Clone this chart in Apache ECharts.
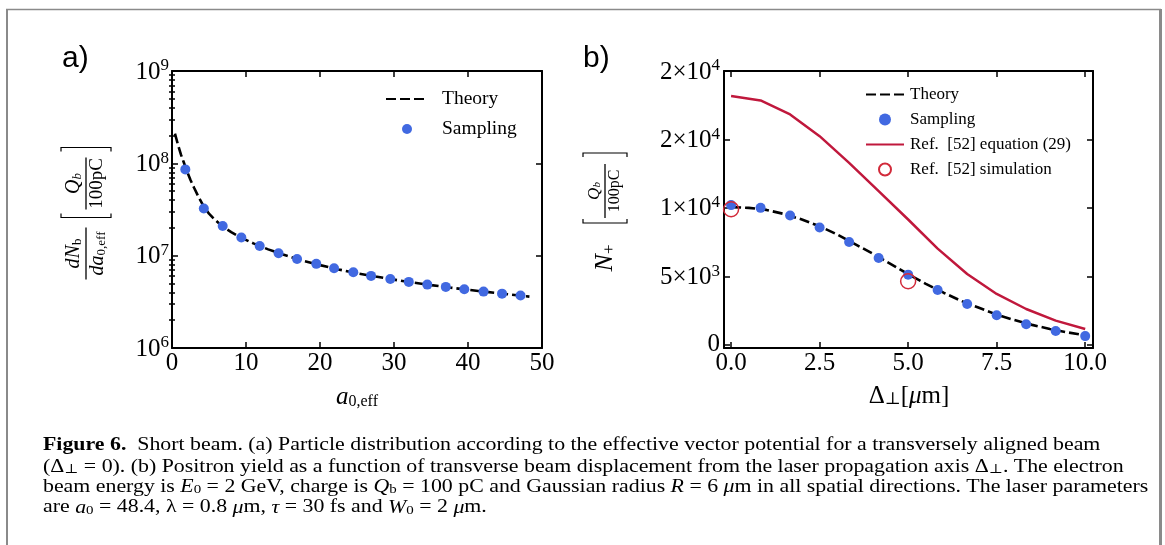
<!DOCTYPE html>
<html lang="en">
<head>
<meta charset="UTF-8">
<title>Figure 6</title>
<script src="https://cdn.jsdelivr.net/npm/echarts@6/dist/echarts.min.js"></script>
<style>
  html, body { margin: 0; padding: 0; background: #fff; }
  #main { width: 1165px; height: 545px; }
</style>
</head>
<body>
<div id="main"></div>
<script type="text/javascript">
// ---- panel a) : dN/da0,eff vs a0,eff (log y)
var aSampleX = [1.8, 4.3, 6.85, 9.37, 11.85, 14.4, 16.9, 19.5, 21.9, 24.5, 26.9, 29.5, 32.0, 34.5, 37.0, 39.5, 42.1, 44.6, 47.1];
var aSampleY = [8.6e7, 3.24e7, 2.1e7, 1.57e7, 1.27e7, 1.06e7, 9.2e6, 8.15e6, 7.3e6, 6.62e6, 6.04e6, 5.6e6, 5.2e6, 4.86e6, 4.59e6, 4.33e6, 4.08e6, 3.88e6, 3.7e6];
var aTheoryX = [0.4, 0.8, 1.2, 1.6, 2.0, 2.5, 3.0, 3.6, 4.3, 5.0, 5.8, 6.8, 8.0, 9.4, 11, 13, 15, 17.5, 20, 22.5, 25, 27.5, 30, 32.5, 35, 37.5, 40, 42.5, 45, 48.3];
var aTheoryY = [2.1e8, 1.6e8, 1.25e8, 1.02e8, 8.3e7, 6.6e7, 5.4e7, 4.3e7, 3.4e7, 2.85e7, 2.45e7, 2.08e7, 1.8e7, 1.56e7, 1.36e7, 1.17e7, 1.03e7, 8.9e6, 7.9e6, 7.1e6, 6.45e6, 5.95e6, 5.5e6, 5.12e6, 4.8e6, 4.52e6, 4.27e6, 4.05e6, 3.85e6, 3.6e6];
var aYTicks = [1e6, 1e7, 1e8, 1e9];
var aYTickLabels = ['10^6', '10^7', '10^8', '10^9'];

// ---- panel b) : N+ vs transverse displacement
var bX = [0, 0.833, 1.667, 2.5, 3.333, 4.167, 5, 5.833, 6.667, 7.5, 8.333, 9.167, 10];
var bSampling = [10200, 10000, 9440, 8560, 7510, 6340, 5120, 4000, 2980, 2150, 1490, 1000, 630];
var bRefEq = [18170, 17850, 16830, 15240, 13290, 11220, 9150, 7020, 5170, 3710, 2610, 1760, 1150];
var bTheoryX = [0, 0.5, 1, 1.5, 2, 2.5, 3, 3.5, 4, 4.5, 5, 5.5, 6, 6.5, 7, 7.5, 8, 8.5, 9, 9.5, 10];
var bTheory = [10050, 10000, 9850, 9550, 9150, 8650, 8050, 7350, 6650, 5900, 5150, 4450, 3800, 3200, 2700, 2200, 1800, 1450, 1150, 900, 680];
var bRefSimX = [0, 5];
var bRefSim = [9900, 4640];
var bXTicks = [0, 2.5, 5, 7.5, 10];
var bYTicks = [0, 5000, 10000, 15000, 20000];
var bYTickLabels = ['0', '5×10^3', '1×10^4', '2×10^4', '2×10^4'];

var SERIF = '"Liberation Serif", "DejaVu Serif", serif';
var BLUE = '#4169E1';
var RED = '#C0183C';

function zip(xs, ys) {
    return xs.map(function (x, i) { return [x, ys[i]]; });
}

// minor log ticks 2..9 x 10^n
var aYMinor = [];
for (var e = 6; e < 9; e++) {
    for (var m = 2; m <= 9; m++) aYMinor.push(m * Math.pow(10, e));
}

var supRich = {
    b: { fontFamily: SERIF, fontSize: 25, color: '#000', verticalAlign: 'bottom' },
    s: { fontFamily: SERIF, fontSize: 17, color: '#000', verticalAlign: 'bottom', padding: [0, 0, 10, 0] }
};
function powLabel(txt) {
    var p = txt.split('^');
    if (p.length === 1) return '{b|' + p[0] + '}';
    return '{b|' + p[0] + '}{s|' + p[1] + '}';
}

var tickStyle = { color: '#000', width: 1.5 };
var spine = { show: true, onZero: false, lineStyle: { color: '#000', width: 2 } };

function plainX(grid, pos, min, max, ticks, showLabel, fmt) {
    return {
        gridIndex: grid, type: 'value', position: pos, min: min, max: max,
        axisLine: spine,
        axisTick: { show: true, inside: true, length: 6, customValues: ticks, lineStyle: tickStyle },
        axisLabel: { show: showLabel, customValues: ticks, margin: 3, fontFamily: SERIF, fontSize: 25, color: '#000', formatter: fmt },
        splitLine: { show: false }
    };
}

var xAxes = [
    plainX(0, 'bottom', 0, 50, [0, 10, 20, 30, 40, 50], true, function (v) { return String(v); }),
    plainX(0, 'top', 0, 50, [0, 10, 20, 30, 40, 50], false),
    plainX(1, 'bottom', -0.2, 10.22, bXTicks, true, function (v) { return v.toFixed(1); }),
    plainX(1, 'top', -0.2, 10.22, bXTicks, false)
];

function logY(pos, ticks, len, showLabel, showLine) {
    return {
        gridIndex: 0, type: 'log', logBase: 10, position: pos, min: 1e6, max: 1e9,
        axisLine: showLine ? spine : { show: false },
        axisTick: { show: true, inside: true, length: len, customValues: ticks, lineStyle: tickStyle },
        axisLabel: {
            show: showLabel, customValues: ticks, margin: 3, rich: supRich,
            formatter: function (v) {
                var i = aYTicks.indexOf(v);
                if (i < 0) i = Math.round(Math.log10(v)) - 6;
                return powLabel(aYTickLabels[i]);
            }
        },
        splitLine: { show: false }
    };
}
function linY(pos, showLabel) {
    return {
        gridIndex: 1, type: 'value', position: pos, min: -240, max: 20000,
        axisLine: spine,
        axisTick: { show: true, inside: true, length: 6, customValues: bYTicks, lineStyle: tickStyle },
        axisLabel: {
            show: showLabel, customValues: bYTicks, margin: 4, rich: supRich,
            formatter: function (v) { return powLabel(bYTickLabels[bYTicks.indexOf(v)]); }
        },
        splitLine: { show: false }
    };
}

var yAxes = [
    logY('left', aYTicks, 6, true, true),
    logY('left', aYMinor, 3, false, false),
    logY('right', aYTicks, 6, false, true),
    logY('right', aYMinor, 3, false, false),
    linY('left', true),
    linY('right', false)
];

var dash = [10, 4];
var series = [
    {
        name: 'Theory', type: 'line', xAxisIndex: 0, yAxisIndex: 0, symbol: 'none',
        data: zip(aTheoryX, aTheoryY), lineStyle: { color: '#000', width: 2.6, type: dash }, itemStyle: { color: '#000' }, z: 2
    },
    {
        name: 'Sampling', type: 'scatter', xAxisIndex: 0, yAxisIndex: 0, symbolSize: 10,
        data: zip(aSampleX, aSampleY), itemStyle: { color: BLUE, opacity: 1 }, z: 3
    },
    {
        name: 'Ref.  [52] equation (29)', type: 'line', xAxisIndex: 2, yAxisIndex: 4, symbol: 'none',
        data: zip(bX, bRefEq), lineStyle: { color: RED, width: 2.5 }, itemStyle: { color: RED }, z: 2
    },
    {
        name: 'Theory', type: 'line', xAxisIndex: 2, yAxisIndex: 4, symbol: 'none',
        data: zip(bTheoryX, bTheory), lineStyle: { color: '#000', width: 2.6, type: dash }, itemStyle: { color: '#000' }, z: 2
    },
    {
        name: 'Sampling', type: 'scatter', xAxisIndex: 2, yAxisIndex: 4, symbolSize: 10,
        data: zip(bX, bSampling), itemStyle: { color: BLUE, opacity: 1 }, z: 3
    },
    {
        name: 'Ref.  [52] simulation', type: 'scatter', xAxisIndex: 2, yAxisIndex: 4, symbolSize: 15,
        data: zip(bRefSimX, bRefSim),
        itemStyle: { color: 'rgba(255,255,255,0)', borderColor: '#D22A3A', borderWidth: 1.5, opacity: 1 }, z: 4
    }
];

// text helpers for math-ish labels
var mathRich = function (size, sub) {
    return {
        i: { fontFamily: SERIF, fontStyle: 'italic', fontSize: size, color: '#000', verticalAlign: 'bottom' },
        r: { fontFamily: SERIF, fontSize: size, color: '#000', verticalAlign: 'bottom' },
        sub: { fontFamily: SERIF, fontSize: sub, color: '#000', verticalAlign: 'bottom', lineHeight: sub * 0.45 },
        isub: { fontFamily: SERIF, fontStyle: 'italic', fontSize: sub, color: '#000', verticalAlign: 'bottom', lineHeight: sub * 0.45 }
    };
};
function txt(x, y, text, size, sub, align, valign) {
    return {
        type: 'text', x: x, y: y, silent: true,
        style: {
            text: text, fontFamily: SERIF, fontSize: size, fill: '#000',
            align: align || 'center', verticalAlign: valign || 'middle', rich: mathRich(size, sub)
        }
    };
}
function hline(x1, x2, y, w) {
    return { type: 'line', silent: true, shape: { x1: x1, y1: y, x2: x2, y2: y }, style: { stroke: '#000', lineWidth: w || 1.3 } };
}
function bracket(x, h, dir) {
    return {
        type: 'polyline', silent: true,
        shape: { points: [[x + dir * 4, -h], [x, -h], [x, h], [x + dir * 4, h]] },
        style: { stroke: '#000', lineWidth: 1.2, fill: null }
    };
}

var CAP = 19;
var capRich = {
    fb: { fontFamily: SERIF, fontWeight: 'bold', fontSize: CAP, color: '#000', verticalAlign: 'bottom' },
    i: { fontFamily: SERIF, fontStyle: 'italic', fontSize: CAP, color: '#000', verticalAlign: 'bottom' },
    sub: { fontFamily: SERIF, fontSize: 13, color: '#000', verticalAlign: 'bottom', lineHeight: 6 }
};
var captionLines = [
    '{fb|Figure 6.}  Short beam. (a) Particle distribution according to the effective vector potential for a transversely aligned beam',
    '(Δ{sub|⊥} = 0). (b) Positron yield as a function of transverse beam displacement from the laser propagation axis Δ{sub|⊥}. The electron',
    'beam energy is {i|E}{sub|0} = 2 GeV, charge is {i|Q}{sub|b} = 100 pC and Gaussian radius {i|R} = 6 {i|μ}m in all spatial directions. The laser parameters',
    'are {i|a}{sub|0} = 48.4, λ = 0.8 {i|μ}m, {i|τ} = 30 fs and {i|W}{sub|0} = 2 {i|μ}m.'
];
var captionY = [455, 476.5, 496.5, 517];

var graphics = [
    // page frame
    { type: 'line', silent: true, shape: { x1: 7, y1: 9, x2: 7, y2: 545 }, style: { stroke: '#8a8a8a', lineWidth: 2 } },
    { type: 'line', silent: true, shape: { x1: 6, y1: 9.5, x2: 1161, y2: 9.5 }, style: { stroke: '#8a8a8a', lineWidth: 1.5 } },
    { type: 'line', silent: true, shape: { x1: 1160.5, y1: 9, x2: 1160.5, y2: 545 }, style: { stroke: '#8a8a8a', lineWidth: 3 } },
    // panel letters
    { type: 'text', x: 62, y: 59, silent: true, style: { text: 'a)', fontFamily: '"Liberation Sans", Arial, sans-serif', fontSize: 30, fill: '#000', verticalAlign: 'middle' } },
    { type: 'text', x: 583, y: 59, silent: true, style: { text: 'b)', fontFamily: '"Liberation Sans", Arial, sans-serif', fontSize: 30, fill: '#000', verticalAlign: 'middle' } },
    // x axis names
    txt(357, 397, '{i|a}{sub|0,eff}', 25, 16),
    txt(909, 396, '{r|Δ}{sub|⊥}{r|[}{i|μ}{r|m]}', 25, 17),
    // y axis name a
    {
        type: 'group', x: 86, y: 213.5, rotation: Math.PI / 2, silent: true,
        children: [
            txt(-40, -2, '{i|dN}{sub|b}', 20, 13, 'center', 'bottom'),
            hline(-66, -14, 0),
            txt(-40, 2, '{i|da}{sub|0,eff}', 20, 13, 'center', 'top'),
            bracket(-4, 25, 1),
            txt(30, -2, '{i|Q}{isub|b}', 20, 13, 'center', 'bottom'),
            hline(4, 56, 0),
            txt(30, 2, '100pC', 19, 13, 'center', 'top'),
            bracket(66, 25, -1)
        ]
    },
    // y axis name b
    {
        type: 'group', x: 605, y: 212, rotation: Math.PI / 2, silent: true,
        children: [
            txt(-46, 0, '{i|N}{sub|+}', 26, 17),
            bracket(-11, 22, 1),
            txt(21, -2, '{i|Q}{isub|b}', 17, 11, 'center', 'bottom'),
            hline(-6, 48, 0),
            txt(21, 2, '100pC', 16, 11, 'center', 'top'),
            bracket(59, 22, -1)
        ]
    }
];
captionLines.forEach(function (line, i) {
    graphics.push({
        type: 'text', x: 43, y: captionY[i], scaleX: 1.15, silent: true,
        style: { text: line, fontFamily: SERIF, fontSize: CAP, fill: '#000', align: 'left', verticalAlign: 'bottom', rich: capRich }
    });
});

// hide the dot that the legend puts on line icons
var noDot = { opacity: 0 };

var myChart = echarts.init(document.getElementById('main'), null, { renderer: 'canvas' });
var option = {
    backgroundColor: '#fff',
    animation: false,
    grid: [
        { left: 172, top: 71, width: 370, height: 277 },
        { left: 724, top: 71, width: 369, height: 277 }
    ],
    legend: [
        {
            data: [{ name: 'Theory', itemStyle: noDot }, 'Sampling'], left: 380, top: 84, orient: 'vertical',
            itemWidth: 42, itemHeight: 10, itemGap: 10, selectedMode: false,
            textStyle: { fontFamily: SERIF, fontSize: 19.5, color: '#000', padding: [0, 0, 0, 9] }
        },
        {
            data: [{ name: 'Theory', itemStyle: noDot }, 'Sampling', { name: 'Ref.  [52] equation (29)', itemStyle: noDot }, 'Ref.  [52] simulation'],
            left: 860, top: 81, orient: 'vertical',
            itemWidth: 38, itemHeight: 12, itemGap: 8, selectedMode: false,
            textStyle: { fontFamily: SERIF, fontSize: 17, color: '#000', padding: [0, 0, 0, 1] }
        }
    ],
    xAxis: xAxes,
    yAxis: yAxes,
    series: series,
    graphic: graphics
};
myChart.setOption(option);
</script>
</body>
</html>
